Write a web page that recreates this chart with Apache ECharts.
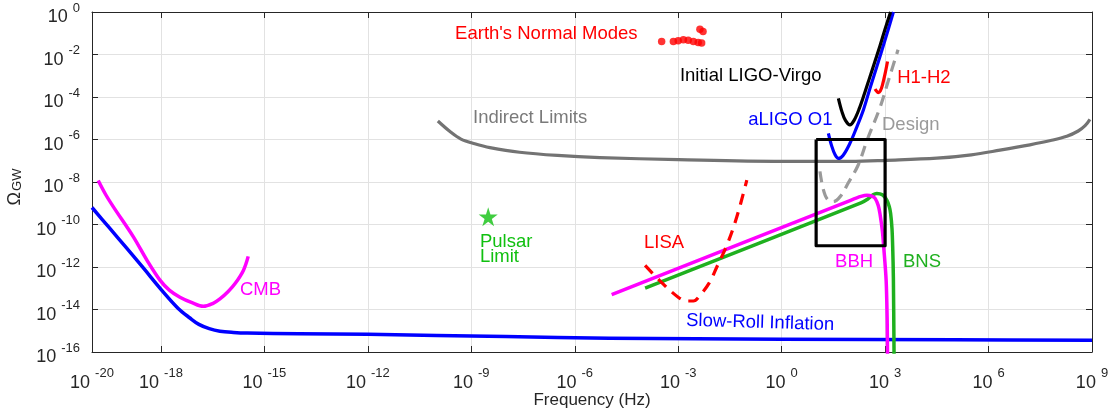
<!DOCTYPE html>
<html>
<head>
<meta charset="utf-8">
<script src="https://cdn.jsdelivr.net/npm/echarts@6/dist/echarts.min.js"></script>
<style>
  html, body { margin: 0; padding: 0; background: #ffffff; }
  #chart { width: 1120px; height: 413px; }
</style>
</head>
<body>
<div id="chart"></div>
<script>
// Every point is [log10(frequency / Hz), log10(Omega_GW)]
const xTickExps = [-20, -18, -15, -12, -9, -6, -3, 0, 3, 6, 9];
const yTickExps = [-16, -14, -12, -10, -8, -6, -4, -2, 0];

const slowRoll = [[-20, -9.2], [-19.5, -10.15], [-19, -11.1], [-18.5, -12.07], [-18, -13.05],
  [-17.5, -13.95], [-17.16, -14.4], [-16.9, -14.7], [-16.6, -14.9], [-16.29, -15.02],
  [-15.9, -15.08], [-15.5, -15.11], [-14, -15.14], [-12, -15.17], [-8, -15.27],
  [-5, -15.35], [0, -15.4], [5, -15.42], [9, -15.45]];

const cmb = [[-19.82, -7.93], [-19.6, -8.6], [-19.38, -9.17], [-18.8, -10.58], [-18.4, -11.7],
  [-18.03, -12.62], [-17.75, -13.1], [-17.45, -13.42], [-17.1, -13.68], [-16.77, -13.85],
  [-16.5, -13.72], [-16.29, -13.5], [-16.05, -13.15], [-15.85, -12.78], [-15.61, -12.16],
  [-15.47, -11.5]];

const indirectLimits = [[-9.97, -5.13], [-9.6, -5.65], [-9.3, -5.98], [-8.9, -6.2], [-8.46, -6.38],
  [-7.6, -6.6], [-6.5, -6.75], [-5.27, -6.85], [-3, -6.95], [0, -7.03], [2, -7.03],
  [3.04, -6.98], [4.5, -6.88], [5.5, -6.72], [6.33, -6.5], [7.2, -6.25], [7.8, -6.05],
  [8.27, -5.85], [8.6, -5.6], [8.8, -5.35], [8.94, -5.05]];

const lisa = [[-3.96, -11.92], [-3.5, -12.7], [-3.0, -13.42], [-2.75, -13.6], [-2.56, -13.6],
  [-2.37, -13.34], [-2.1, -12.75], [-1.88, -12.0], [-1.59, -10.98], [-1.3, -9.64], [-1.01, -7.91]];

const bns = [[-3.96, -12.99], [2.3, -8.98], [2.5, -8.8], [2.65, -8.6], [2.76, -8.54], [2.92, -8.6],
  [3.05, -8.85], [3.12, -9.15], [3.16, -9.48], [3.2, -10.2], [3.22, -11.06], [3.24, -12.5],
  [3.26, -16.2]];

const bbh = [[-4.93, -13.3], [2.0, -8.86], [2.3, -8.68], [2.47, -8.62], [2.62, -8.66], [2.71, -8.77],
  [2.8, -9.1], [2.85, -9.48], [2.92, -10.3], [2.96, -11.06], [3.03, -12.63], [3.06, -14.5],
  [3.07, -16.2]];

const designLigo = [[1.11, -7.5], [1.2, -8.3], [1.32, -8.8], [1.5, -8.92], [1.69, -8.7],
  [1.93, -8.05], [2.22, -7.2], [2.48, -6.02], [2.85, -4.5], [3.12, -3.1], [3.375, -1.78]];

const aligoO1 = [[1.355, -5.71], [1.45, -6.3], [1.55, -6.72], [1.645, -6.89], [1.78, -6.75],
  [1.98, -6.18], [2.17, -5.45], [2.37, -4.61], [2.56, -3.6], [2.76, -2.57], [3.0, -1.31],
  [3.24, 0]];

const initialLigoVirgo = [[1.645, -4.06], [1.75, -4.7], [1.85, -5.1], [1.98, -5.31], [2.1, -5.1],
  [2.25, -4.55], [2.4, -3.85], [2.55, -3.1], [2.7, -2.35], [2.85, -1.6], [3.0, -0.8], [3.16, 0]];

const h1h2 = [[3.07, -2.33], [3.0, -2.9], [2.92, -3.45], [2.86, -3.72], [2.8, -3.79],
  [2.75, -3.72], [2.71, -3.62]];

const sensitivityBox = [[1, -6], [3, -6], [3, -11], [1, -11], [1, -6]];

const earthModes = [[-3.48, -1.39], [-3.14, -1.39], [-3.0, -1.35], [-2.85, -1.31], [-2.71, -1.33],
  [-2.56, -1.39], [-2.42, -1.43], [-2.32, -1.46], [-2.37, -0.81], [-2.28, -0.92]];

const pulsarLimit = [[-8.51, -9.64]];

// Annotation texts anchored at [log10 f, log10 Omega] (left edge, vertical middle)
const annotations = [
  { text: "Earth's Normal Modes", at: [-9.47, -1.02], color: '#ff0000' },
  { text: 'Initial LIGO-Virgo', at: [-2.95, -3.0], color: '#000000' },
  { text: 'H1-H2', at: [3.35, -3.1], color: '#ff0000' },
  { text: 'aLIGO O1', at: [-0.97, -5.08], color: '#0000ff' },
  { text: 'Design', at: [2.91, -5.32], color: '#9a9a9a' },
  { text: 'Indirect Limits', at: [-8.95, -4.99], color: '#7a7a7a' },
  { text: 'LISA', at: [-3.99, -10.88], color: '#ff0000' },
  { text: 'BBH', at: [1.55, -11.78], color: '#ff00ff' },
  { text: 'BNS', at: [3.52, -11.78], color: '#1fb01f' },
  { text: 'Slow-Roll Inflation', at: [-2.77, -14.52], color: '#0000ff', rotation: -0.03 },
  { text: 'CMB', at: [-15.71, -13.1], color: '#ff00ff' },
  { text: 'Pulsar\nLimit', at: [-8.75, -11.18], color: '#10c010', lineHeight: 15 }
];

const FONT_FAMILY = '"Liberation Sans", Arial, Helvetica, sans-serif';
const AXIS_COLOR = '#262626';

// "10" with a raised exponent
const powerRich = {
  b: { fontSize: 18, lineHeight: 25, verticalAlign: 'bottom', color: AXIS_COLOR, fontFamily: FONT_FAMILY },
  s: { fontSize: 13, verticalAlign: 'top', color: AXIS_COLOR, fontFamily: FONT_FAMILY, padding: [0, 0, 0, 5] }
};
const powerLabel = v => '{b|10}{s|' + v + '}';

function curve(name, data, color, width, opts) {
  opts = opts || {};
  return {
    name: name,
    type: 'line',
    data: data,
    showSymbol: false,
    symbol: 'none',
    smooth: opts.smooth === undefined ? 0.35 : opts.smooth,
    clip: true,
    z: opts.z || 2,
    lineStyle: { color: color, width: width, type: opts.dash || 'solid', cap: 'butt', join: 'round' },
    silent: true
  };
}

const chart = echarts.init(document.getElementById('chart'), null, { renderer: 'canvas' });

const baseX = {
  type: 'value', min: -20, max: 9,
  axisLine: { show: true, onZero: false, lineStyle: { color: AXIS_COLOR, width: 1 } },
  axisTick: { show: true, inside: true, length: 6, customValues: xTickExps, lineStyle: { color: AXIS_COLOR } }
};
const baseY = {
  type: 'value', min: -16, max: 0, interval: 2,
  axisLine: { show: true, onZero: false, lineStyle: { color: AXIS_COLOR, width: 1 } },
  axisTick: { show: true, inside: true, length: 6, lineStyle: { color: AXIS_COLOR } }
};

chart.setOption({
  animation: false,
  backgroundColor: '#ffffff',
  grid: { left: 92, right: 28, top: 12, bottom: 61, containLabel: false, outerBoundsMode: 'none' },
  xAxis: [
    Object.assign({}, baseX, {
      position: 'bottom',
      name: 'Frequency (Hz)', nameLocation: 'middle', nameGap: 40, nameMoveOverlap: false,
      nameTextStyle: { fontSize: 17, color: AXIS_COLOR, fontFamily: FONT_FAMILY },
      axisLabel: { show: true, customValues: xTickExps, formatter: powerLabel, rich: powerRich, margin: 15 },
      splitLine: { show: true, lineStyle: { color: '#e2e2e2', width: 1 } }
    }),
    Object.assign({}, baseX, {
      position: 'top',
      axisLabel: { show: false },
      splitLine: { show: false }
    })
  ],
  yAxis: [
    Object.assign({}, baseY, {
      position: 'left',
      name: '{o|Ω}{sub|GW}', nameLocation: 'middle', nameGap: 68, nameRotate: 90,
      nameTextStyle: {
        padding: [0, 10, 0, 0],
        rich: {
          o: { fontSize: 18, lineHeight: 18, verticalAlign: 'top', color: AXIS_COLOR, fontFamily: FONT_FAMILY },
          sub: { fontSize: 13, lineHeight: 13, verticalAlign: 'bottom', color: AXIS_COLOR, fontFamily: FONT_FAMILY, padding: [0, 0, 0, 1] }
        }
      },
      axisLabel: { show: true, formatter: powerLabel, rich: powerRich, margin: 12, padding: [4, 0, 0, 0] },
      splitLine: { show: true, lineStyle: { color: '#e2e2e2', width: 1 } }
    }),
    Object.assign({}, baseY, {
      position: 'right',
      axisLabel: { show: false },
      splitLine: { show: false }
    })
  ],
  series: [
    curve('Slow-Roll Inflation', slowRoll, '#0000ff', 3.5, { z: 2 }),
    curve('CMB', cmb, '#ff00ff', 3.5, { z: 3 }),
    curve('Indirect Limits', indirectLimits, '#737373', 3.2, { z: 3 }),
    curve('BNS', bns, '#1fb01f', 3.5, { z: 4, smooth: 0.3 }),
    curve('BBH', bbh, '#ff00ff', 3.5, { z: 5, smooth: 0.3 }),
    curve('LISA', lisa, '#ff0000', 3.2, { z: 6, dash: [11, 8] }),
    curve('Design', designLigo, '#9a9a9a', 3.2, { z: 6, dash: [11, 7] }),
    curve('aLIGO O1', aligoO1, '#0000ff', 3.2, { z: 7 }),
    curve('Initial LIGO-Virgo', initialLigoVirgo, '#000000', 3.2, { z: 7 }),
    curve('H1-H2', h1h2, '#ff0000', 3.2, { z: 8, smooth: 0.3 }),
    curve('Sensitivity box', sensitivityBox, '#000000', 3.2, { z: 9, smooth: false }),
    {
      name: "Earth's Normal Modes", type: 'scatter', data: earthModes, symbol: 'circle', symbolSize: 7.5,
      itemStyle: { color: '#ff0000' }, z: 8, silent: true
    },
    {
      name: 'Pulsar Limit', type: 'scatter', data: pulsarLimit,
      symbol: 'path://M50,0 L61.2,34.5 L97.6,34.5 L68.2,55.9 L79.4,90.5 L50,69.1 L20.6,90.5 L31.8,55.9 L2.4,34.5 L38.8,34.5 Z',
      symbolSize: 19, itemStyle: { color: '#10c010' }, z: 8, silent: true
    }
  ]
});

// Place the curve names at their data anchors
const graphics = annotations.map(a => {
  const p = chart.convertToPixel({ gridIndex: 0 }, a.at);
  return {
    type: 'text', x: p[0], y: p[1], rotation: a.rotation || 0, z: 20, silent: true,
    style: {
      text: a.text, fill: a.color, fontSize: 18.5, fontFamily: FONT_FAMILY,
      lineHeight: a.lineHeight || 20, verticalAlign: 'middle', align: 'left'
    }
  };
});
chart.setOption({ graphic: graphics });
</script>
</body>
</html>
